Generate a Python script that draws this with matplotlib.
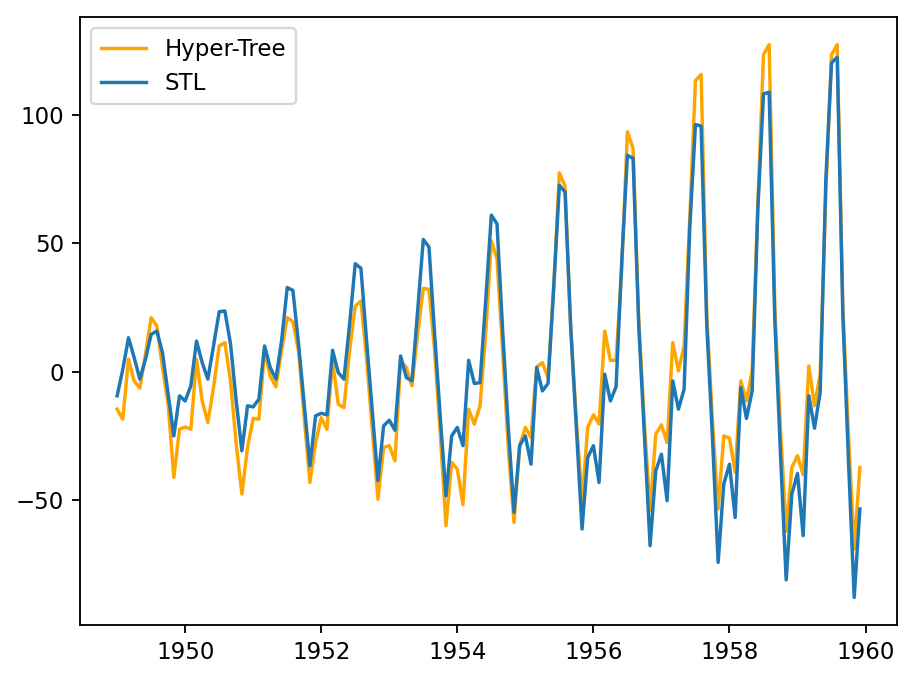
import numpy as np
import matplotlib
matplotlib.use("Agg")
import matplotlib.pyplot as plt

# Monthly seasonal components, Jan 1949 .. Dec 1959
start_year = 1949
n_months = 132

hyper_tree = [
    -14.5, -18.4, 4.9, -3.5, -6.3, 6.9, 21.1, 17.9, 1.7, -12.6, -41.0, -22.3,
    -21.4, -22.3, 4.9, -11.3, -19.7, -6.1, 10.1, 11.4, -3.5, -28.0, -47.5, -29.4,
    -18.1, -18.4, 8.2, -1.6, -5.8, 8.2, 21.1, 19.5, 8.2, -17.8, -43.0, -27.5,
    -17.8, -22.3, 4.3, -12.6, -13.9, 8.2, 25.6, 27.6, 5.0, -22.0, -49.5, -29.4,
    -28.7, -34.6, 4.3, 1.7, -5.4, 14.7, 32.5, 32.1, 8.2, -24.2, -59.8, -35.2,
    -37.8, -51.7, -14.5, -20.3, -13.2, 14.7, 51.0, 44.0, 8.0, -30.0, -58.5, -28.7,
    -21.6, -25.5, 1.9, 3.6, -2.2, 32.8, 77.4, 72.3, 17.0, -19.0, -50.0, -21.6,
    -16.7, -20.3, 15.9, 4.5, 4.5, 40.0, 93.4, 86.9, 20.0, -20.0, -54.0, -24.2,
    -20.6, -27.5, 11.4, 0.4, 10.1, 60.0, 113.3, 115.7, 22.0, -19.0, -53.3, -24.9,
    -25.8, -39.1, -3.5, -11.3, 0.4, 65.0, 123.4, 127.3, 25.0, -22.0, -62.0, -37.2,
    -32.6, -40.0, 2.3, -13.2, -0.9, 70.0, 123.4, 127.3, 25.0, -25.0, -68.9, -37.2,
]

stl = [
    -9.3, 1.0, 13.3, 5.6, -2.8, 4.9, 14.6, 15.9, 7.5, -8.7, -24.9, -9.3,
    -11.3, -5.4, 12.0, 3.6, -2.8, 10.1, 23.4, 23.7, 10.9, -11.3, -30.7, -13.2,
    -13.6, -10.6, 10.1, 1.7, -2.8, 12.0, 32.8, 31.7, 10.8, -12.6, -36.5, -17.1,
    -16.1, -16.7, 8.4, -0.3, -2.8, 18.5, 42.1, 40.3, 12.0, -15.0, -42.3, -21.0,
    -18.8, -22.7, 6.2, -2.2, -3.5, 23.7, 51.5, 48.6, 14.6, -17.8, -48.2, -24.9,
    -21.6, -28.7, 4.5, -4.5, -4.2, 27.6, 61.0, 57.6, 16.0, -22.0, -54.6, -28.7,
    -24.9, -35.9, 1.7, -7.4, -4.5, 32.8, 72.6, 70.0, 17.2, -21.6, -61.1, -33.3,
    -28.7, -43.0, -0.9, -11.3, -5.8, 43.0, 84.3, 83.0, 18.0, -25.0, -67.6, -38.5,
    -32.0, -50.1, -3.5, -14.5, -6.7, 56.0, 96.2, 95.6, 18.0, -25.5, -74.1, -43.6,
    -35.9, -56.6, -6.1, -18.1, -7.4, 63.0, 108.1, 108.8, 20.0, -32.0, -80.9, -47.5,
    -39.5, -63.7, -9.3, -21.9, -8.0, 75.0, 120.2, 122.4, 22.0, -35.0, -87.7, -53.3,
]

x = start_year + np.arange(n_months) / 12.0

W, H, DPI = 913, 679, 165
fig = plt.figure(figsize=(W / DPI, H / DPI), dpi=DPI)
ax = fig.add_axes([80 / W, (H - 625) / H, (897 - 80) / W, (625 - 17) / H])

ax.plot(x, hyper_tree, color="orange", label="Hyper-Tree")
ax.plot(x, stl, color="tab:blue", label="STL")
ax.legend(loc="upper left")
ax.xaxis.get_major_formatter().set_useOffset(False)

fig.savefig("out.png", dpi=DPI)
